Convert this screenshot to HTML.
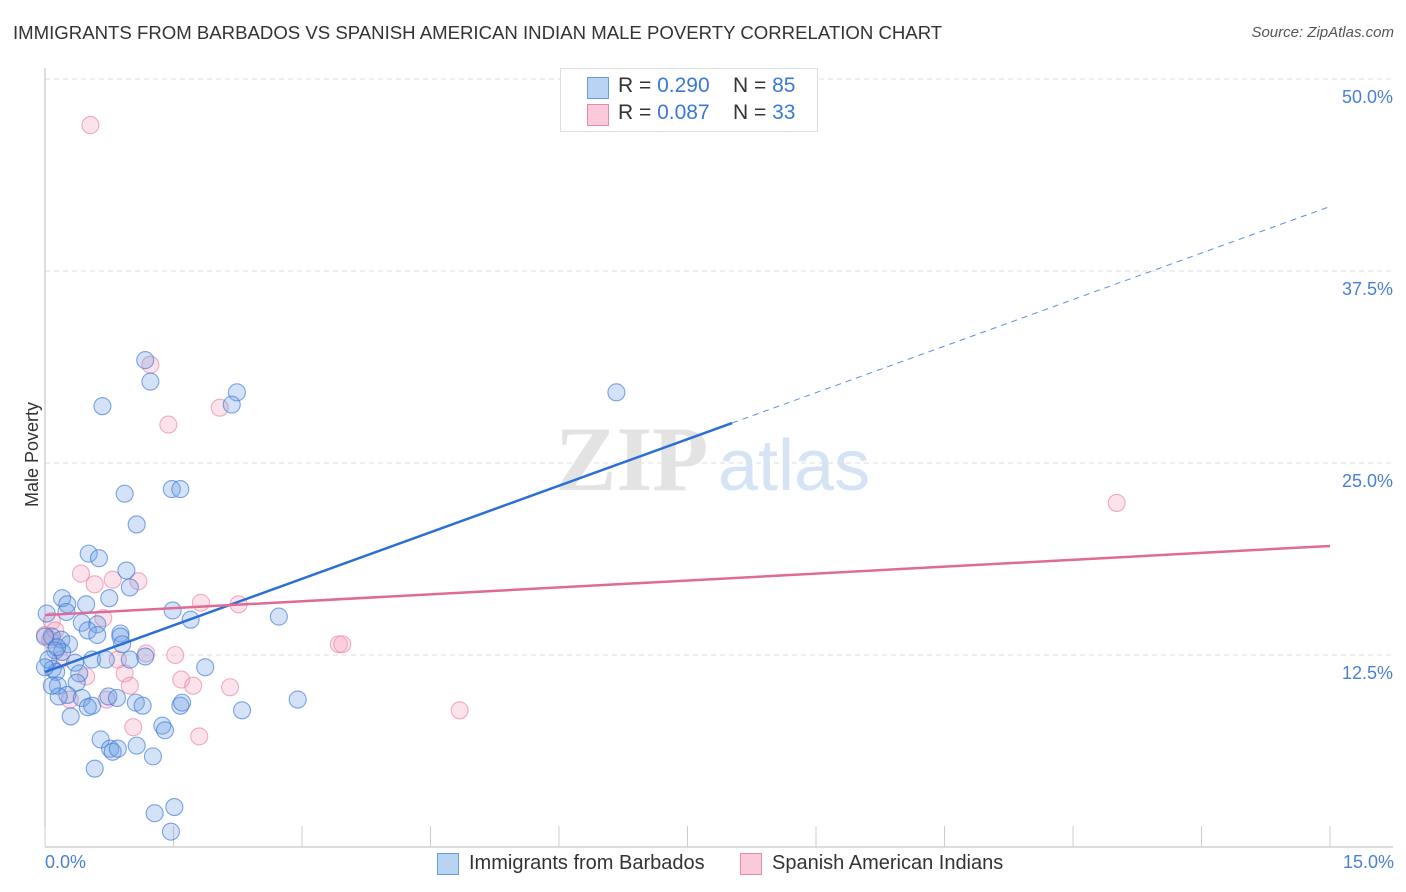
<!DOCTYPE html>
<html><head><meta charset="utf-8"><style>
body{margin:0;background:#fff;font-family:"Liberation Sans",sans-serif;}
#wrap{position:relative;width:1406px;height:892px;overflow:hidden;}
.t{position:absolute;white-space:nowrap;}
</style></head><body>
<div id="wrap">
<div class="t" style="left:13px;top:22px;font-size:18.6px;color:#333;">IMMIGRANTS FROM BARBADOS VS SPANISH AMERICAN INDIAN MALE POVERTY CORRELATION CHART</div>
<div class="t" style="right:12px;top:24px;font-size:15px;color:#555;font-style:italic;">Source: ZipAtlas.com</div>
<div class="t" style="left:-20px;top:444px;font-size:18px;color:#333;transform:rotate(-90deg);">Male Poverty</div>
<svg id="svg" width="1406" height="892" style="position:absolute;left:0;top:0;"></svg>
</div>
<script>
const xTicks=[0,1.5,3,4.5,6,7.5,9,10.5,12,13.5,15];
const yTicks=[12.5,25,37.5,50];
const yTickLabels=["12.5%","25.0%","37.5%","50.0%"];
const blueX=[1.17,1.23,0.67,2.24,2.18,6.67,0.93,1.48,1.58,1.07,0.51,0.63,0.95,0.99,0.75,0.20,0.26,0.48,1.49,1.70,2.73,0.25,0.02,0.43,0.61,0.50,0.88,0.88,0.61,0.08,0.19,0.28,0.90,0.12,0.20,0.99,0.55,0.71,1.17,1.87,0.35,0.09,0.13,0.40,0.37,0.15,0.26,0.16,0.43,0.74,0.84,0.55,0.50,1.06,1.14,1.58,1.60,2.30,2.95,0.30,0.65,0.76,0.79,0.85,1.07,1.26,1.37,1.40,0.58,1.28,1.51,1.47,0.0,0.04,0.14,0.0,0.08];
const blueY=[31.7,30.3,28.7,29.6,28.8,29.6,23.0,23.3,23.3,21.0,19.1,18.8,18.0,16.9,16.2,16.2,15.8,15.8,15.4,14.8,15.0,15.3,15.2,14.6,14.5,14.1,13.9,13.7,13.8,13.7,13.5,13.2,13.2,12.8,12.7,12.2,12.2,12.2,12.4,11.7,12.0,11.6,11.4,11.3,10.7,10.5,9.9,9.8,9.7,9.8,9.7,9.2,9.1,9.4,9.2,9.2,9.4,8.9,9.6,8.5,7.0,6.4,6.2,6.4,6.6,5.9,7.9,7.6,5.1,2.2,2.6,1.0,13.7,12.2,13.0,11.7,10.5];
const pinkX=[0.53,1.23,1.44,2.04,12.51,0.42,0.79,1.09,0.58,1.82,2.26,0.68,0.08,0.12,3.43,3.47,1.18,1.52,0.85,0.93,1.59,1.73,2.16,0.99,0.48,0.72,0.29,1.03,1.80,4.84,0.0,0.06,0.18];
const pinkY=[47.0,31.4,27.5,28.6,22.4,17.8,17.4,17.3,17.1,15.9,15.8,14.9,14.7,14.1,13.2,13.2,12.6,12.5,12.2,11.3,10.9,10.5,10.4,10.5,11.1,9.6,9.6,7.8,7.2,8.9,13.8,13.5,12.2];
const blueTrend=[11.4,2.02];   // intercept, slope
const pinkTrend=[15.1,0.30];
const blueSolidEnd=8.02;
const X0=45,X1=1330,Y0=847,YS=15.36;
const sx=v=>X0+(X1-X0)*v/15;
const sy=v=>Y0-v*YS;
const svg=document.getElementById('svg');
const NS='http://www.w3.org/2000/svg';
function mk(tag,attrs){const e=document.createElementNS(NS,tag);for(const k in attrs)e.setAttribute(k,attrs[k]);svg.appendChild(e);return e;}
yTicks.forEach((v,i)=>{
 const g=mk('line',{x1:X0,x2:1393,y1:sy(v),y2:sy(v),stroke:'#ddd','stroke-dasharray':'5,4'});
 
 
 const t=mk('text',{x:1393,y:sy(v)+24,'text-anchor':'end','font-size':18,fill:'#4a7fd8','font-family':'Liberation Sans'});
 t.textContent=yTickLabels[i];
 
 
});
let a=mk('line',{x1:X0,x2:X0,y1:68,y2:Y0,stroke:'#bbb'});


a=mk('line',{x1:X0,x2:1393,y1:Y0,y2:Y0,stroke:'#bbb'});


xTicks.forEach(v=>{
 const l=mk('line',{x1:sx(v),x2:sx(v),y1:826,y2:Y0,stroke:'#ccc'});
 
 
});
let w=mk('text',{x:555,y:490,'font-size':92,fill:'#e3e3e3','font-family':'Liberation Serif','font-weight':'bold'});
w.textContent='ZIP';


w=mk('text',{x:718,y:490,'font-size':72,fill:'#d6e3f5','font-family':'Liberation Sans'});
w.textContent='atlas';


function pts(xs,ys,fill,stroke,name){xs.forEach((x,i)=>{
 const c=mk('circle',{cx:sx(x),cy:sy(ys[i]),r:8.5,fill:fill,stroke:stroke,'stroke-width':1.1});
 
 
});}
pts(pinkX,pinkY,'rgba(245,160,190,0.3)','rgba(232,130,165,0.65)','pink-point');
pts(blueX,blueY,'rgba(110,160,230,0.3)','rgba(60,120,210,0.65)','blue-point');
const by=x=>blueTrend[0]+blueTrend[1]*x, py=x=>pinkTrend[0]+pinkTrend[1]*x;
let l=mk('line',{x1:sx(0),y1:sy(by(0)),x2:sx(blueSolidEnd),y2:sy(by(blueSolidEnd)),stroke:'#2a6fd6','stroke-width':2.5});


l=mk('line',{x1:sx(blueSolidEnd),y1:sy(by(blueSolidEnd)),x2:sx(15),y2:sy(by(15)),stroke:'#5a90dd','stroke-width':1,'stroke-dasharray':'6,5'});


l=mk('line',{x1:sx(0),y1:sy(py(0)),x2:sx(15),y2:sy(py(15)),stroke:'#e06a94','stroke-width':2.5});


</script>
<div style="position:absolute;left:560px;top:68px;width:256px;height:62px;border:1px solid #ddd;background:#fff;font-size:21px;">
 <div style="position:absolute;left:26px;top:8px;width:20px;height:20px;background:#b9d3f5;border:1px solid #6a9de0;"></div>
 <div class="t" style="left:57px;top:5px;color:#333;">R = <span style="color:#3a78d8">0.290</span>&nbsp;&nbsp;&nbsp; N = <span style="color:#3a78d8">85</span></div>
 <div style="position:absolute;left:26px;top:35px;width:20px;height:20px;background:#fbcada;border:1px solid #e98aaa;"></div>
 <div class="t" style="left:57px;top:32px;color:#333;">R = <span style="color:#3a78d8">0.087</span>&nbsp;&nbsp;&nbsp; N = <span style="color:#3a78d8">33</span></div>
</div>
<div class="t" style="left:45px;top:852px;font-size:18px;color:#4a7fd8;">0.0%</div>
<div class="t" style="right:12px;top:852px;font-size:18px;color:#4a7fd8;">15.0%</div>
<div style="position:absolute;left:437px;top:853px;width:20px;height:20px;background:#b9d3f5;border:1px solid #6a9de0;"></div>
<div class="t" style="left:469px;top:852px;font-size:20px;color:#333;">Immigrants from Barbados</div>
<div style="position:absolute;left:740px;top:853px;width:20px;height:20px;background:#fbcada;border:1px solid #e98aaa;"></div>
<div class="t" style="left:772px;top:852px;font-size:20px;color:#333;">Spanish American Indians</div>
</body></html>
